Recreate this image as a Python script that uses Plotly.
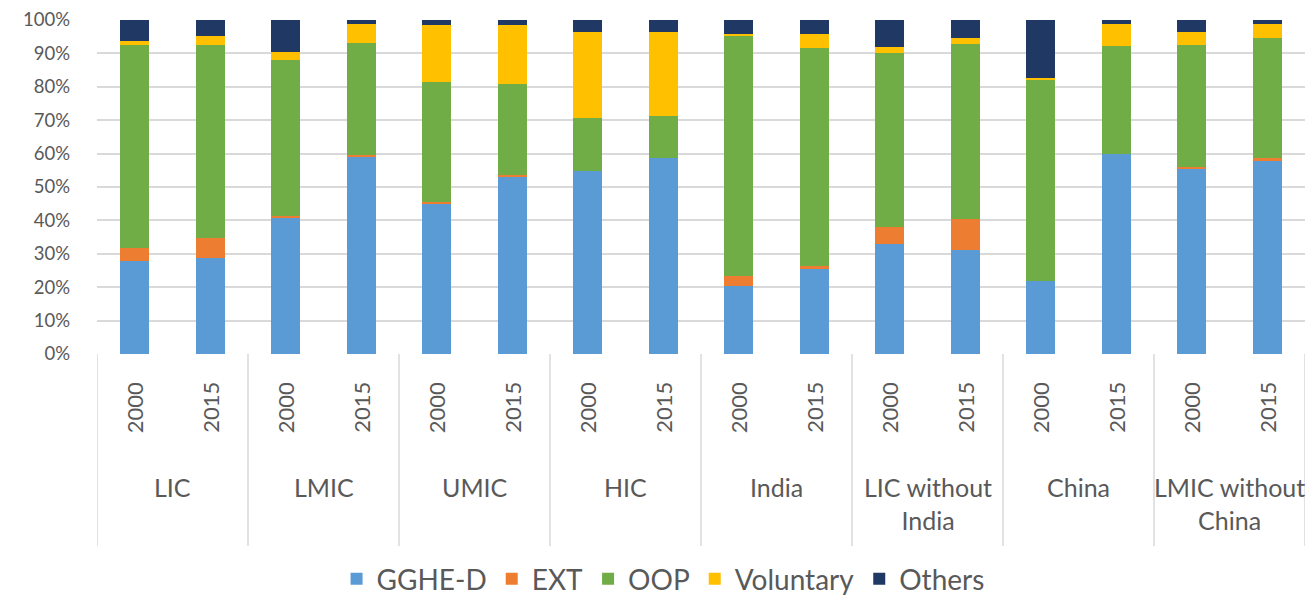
import plotly.graph_objects as go

groups = ["LIC", "LMIC", "UMIC", "HIC", "India", "LIC without<br>India", "China", "LMIC without<br>China"]
years = ["2000", "2015"]

# shares in percent, order: LIC00, LIC15, LMIC00, LMIC15, UMIC00, UMIC15, HIC00, HIC15,
# India00, India15, LICwoI00, LICwoI15, China00, China15, LMICwoC00, LMICwoC15
gghe_d = [27.8, 28.8, 41.0, 59.2, 45.0, 53.0, 54.7, 58.8, 20.5, 25.4, 33.0, 31.2, 22.0, 59.8, 55.3, 57.8]
ext = [4.0, 5.8, 0.3, 0.3, 0.4, 0.6, 0.0, 0.0, 2.8, 1.0, 5.1, 9.2, 0.0, 0.0, 0.6, 1.0]
oop = [60.6, 57.8, 46.8, 33.7, 36.1, 27.3, 15.9, 12.5, 71.8, 65.2, 52.1, 52.5, 60.0, 32.3, 36.7, 35.9]
voluntary = [1.2, 2.8, 2.3, 5.5, 17.0, 17.7, 25.8, 25.1, 0.8, 4.1, 1.7, 1.8, 0.7, 6.6, 3.7, 4.0]
others = [6.4, 4.8, 9.6, 1.3, 1.5, 1.4, 3.6, 3.6, 4.1, 4.3, 8.1, 5.3, 17.3, 1.3, 3.7, 1.3]

y_ticks = [0, 10, 20, 30, 40, 50, 60, 70, 80, 90, 100]
y_tick_labels = [f"{v}%" for v in y_ticks]

series = [
    ("GGHE-D", gghe_d, "#5B9BD5"),
    ("EXT", ext, "#ED7D31"),
    ("OOP", oop, "#70AD47"),
    ("Voluntary", voluntary, "#FFC000"),
    ("Others", others, "#203864"),
]

cats = [f"{g}|{y}" for g in groups for y in years]

FONT = "Lato"
GREY = "#595959"
LINE = "#D9D9D9"

fig = go.Figure()
for name, vals, col in series:
    fig.add_trace(go.Bar(x=cats, y=vals, name=name, marker=dict(color=col, line=dict(width=0))))

annotations = []
for c in cats:
    annotations.append(dict(x=c, y=-0.160, xref="x", yref="paper", text=c.split("|")[1],
                            textangle=-90, showarrow=False, font=dict(family=FONT, size=22, color=GREY),
                            xanchor="center", yanchor="middle"))
for gi, g in enumerate(groups):
    annotations.append(dict(x=gi * 2 + 0.5, y=-0.347, xref="x", yref="paper", text=g,
                            showarrow=False, font=dict(family=FONT, size=25, color=GREY),
                            xanchor="center", yanchor="top"))

shapes = []
for gi in range(len(groups) + 1):
    shapes.append(dict(type="line", xref="x", yref="paper", x0=gi * 2 - 0.5, x1=gi * 2 - 0.5,
                       y0=0, y1=-0.575, line=dict(color=LINE, width=1.5)))

fig.update_layout(
    barmode="stack",
    bargap=0.61,
    width=1315, height=605,
    margin=dict(l=97, r=10, t=20, b=251, autoexpand=False),
    plot_bgcolor="white", paper_bgcolor="white",
    font=dict(family=FONT, color=GREY),
    xaxis=dict(showticklabels=False, showgrid=False, zeroline=False, showline=False,
               range=[-0.5, len(cats) - 0.5]),
    yaxis=dict(range=[0, 100], tickmode="array", tickvals=y_ticks, ticktext=y_tick_labels,
               showgrid=True, gridcolor=LINE, gridwidth=1.5, zeroline=False, showline=False,
               tickfont=dict(family=FONT, size=18.5, color=GREY), ticks="", ticklabelstandoff=26),
    legend=dict(orientation="h", x=0.4686, xanchor="center", y=-0.7485, yref="paper", yanchor="bottom",
                font=dict(family=FONT, size=28, color=GREY), traceorder="normal"),
    annotations=annotations,
    shapes=shapes,
)

fig.write_html("out.html", config={"displayModeBar": False},
               post_script="document.body.style.margin='0';document.body.style.padding='0';")
